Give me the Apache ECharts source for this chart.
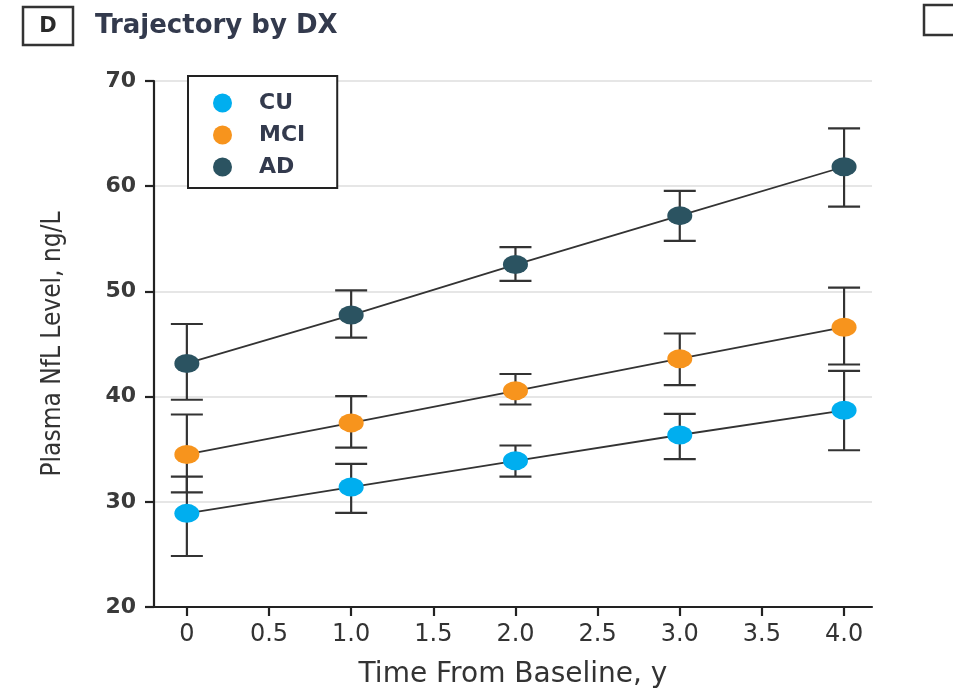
<!DOCTYPE html>
<html>
<head>
<meta charset="utf-8">
<script src="https://cdn.jsdelivr.net/npm/echarts@6/dist/echarts.min.js"></script>
<style>
  html, body { margin: 0; padding: 0; background: #fff; }
  #chart { width: 953px; height: 691px; }
</style>
</head>
<body>
<div id="chart"></div>
<script>
// Years since baseline
const years = [0, 1, 2, 3, 4];
const xTicks = [0, 0.5, 1, 1.5, 2, 2.5, 3, 3.5, 4];

// Plasma NfL (ng/L) estimates with lower / upper confidence bounds
const cuMean = [28.9, 31.4, 33.9, 36.35, 38.7];
const cuLow  = [24.85, 28.95, 32.4, 34.05, 34.9];
const cuHigh = [32.4, 33.6, 35.35, 38.35, 42.45];

const mciMean = [34.5, 37.5, 40.55, 43.6, 46.6];
const mciLow  = [30.9, 35.15, 39.25, 41.1, 43.05];
const mciHigh = [38.3, 40.05, 42.15, 46.0, 50.35];

const adMean = [43.15, 47.75, 52.55, 57.2, 61.85];
const adLow  = [39.7, 45.6, 51.0, 54.8, 58.05];
const adHigh = [46.9, 50.1, 54.2, 59.55, 65.5];

const groups = [
  { name: 'CU',  color: '#00aeef', mean: cuMean,  low: cuLow,  high: cuHigh },
  { name: 'MCI', color: '#f7941d', mean: mciMean, low: mciLow, high: mciHigh },
  { name: 'AD',  color: '#2b5361', mean: adMean,  low: adLow,  high: adHigh }
];

const sans = '"DejaVu Sans", sans-serif';
const condensed = '"DejaVu Sans Condensed", "DejaVu Sans", sans-serif';
const ink = '#333333';
// Stretchable dot (ellipse when width != height)
const dot = 'path://M0,10A10,10,0,1,1,20,10A10,10,0,1,1,0,10Z';

function errorBarSeries(g) {
  return {
    type: 'custom',
    name: g.name + ' CI',
    z: 1,
    silent: true,
    data: years.map((x, i) => [x, g.low[i], g.high[i]]),
    renderItem: function (params, api) {
      const lo = api.coord([api.value(0), api.value(1)]);
      const hi = api.coord([api.value(0), api.value(2)]);
      const half = 16;
      const style = { stroke: ink, lineWidth: 2.2, fill: null };
      return {
        type: 'group',
        children: [
          { type: 'line', shape: { x1: lo[0], y1: lo[1], x2: hi[0], y2: hi[1] }, style: style },
          { type: 'line', shape: { x1: lo[0] - half, y1: lo[1], x2: lo[0] + half, y2: lo[1] }, style: style },
          { type: 'line', shape: { x1: hi[0] - half, y1: hi[1], x2: hi[0] + half, y2: hi[1] }, style: style }
        ]
      };
    }
  };
}

function trendSeries(g) {
  return {
    type: 'line',
    name: g.name,
    z: 3,
    data: years.map((x, i) => [x, g.mean[i]]),
    symbol: dot,
    symbolSize: [25, 19],
    itemStyle: { color: g.color, borderWidth: 0 },
    lineStyle: { color: '#333333', width: 1.8 },
    emphasis: { disabled: true },
    animation: false
  };
}

const chart = echarts.init(document.getElementById('chart'), null, { renderer: 'canvas' });

chart.setOption({
  animation: false,
  backgroundColor: '#ffffff',
  grid: { left: 154, right: 81, top: 81, bottom: 84, containLabel: false, outerBoundsMode: 'none' },
  graphic: [
    { type: 'rect', shape: { x: 23, y: 7, width: 50, height: 38 },
      style: { fill: '#fff', stroke: '#333', lineWidth: 2.5 } },
    { type: 'text', x: 48, y: 27,
      style: { text: 'D', font: 'bold 21px "DejaVu Sans", sans-serif', fill: '#2a2a2a',
               align: 'center', verticalAlign: 'middle' } },
    { type: 'text', x: 95, y: 26,
      style: { text: 'Trajectory by DX', font: 'bold 26px "DejaVu Sans", sans-serif', fill: '#333a4d',
               verticalAlign: 'middle' } },
    { type: 'rect', shape: { x: 924, y: 5, width: 40, height: 30 },
      style: { fill: '#fff', stroke: '#333', lineWidth: 2.5 } }
  ],
  legend: {
    left: 188, top: 76,
    orient: 'vertical',
    padding: [16, 32, 10, 25],
    itemGap: 10,
    itemWidth: 25, itemHeight: 19,
    icon: dot,
    borderColor: '#222', borderWidth: 2,
    backgroundColor: '#fff',
    data: groups.map(g => ({ name: g.name, itemStyle: { color: g.color } })),
    textStyle: { fontFamily: sans, fontWeight: 'bold', fontSize: 22, color: '#333a4d', padding: [0, 0, 0, 19] }
  },
  xAxis: {
    type: 'value',
    min: -0.2, max: 4.17,
    name: 'Time From Baseline, y',
    nameLocation: 'middle',
    nameGap: 54,
    nameTextStyle: { fontFamily: sans, fontSize: 28, color: ink },
    axisLine: { show: true, onZero: false, lineStyle: { color: '#222', width: 2.2 } },
    axisTick: { show: true, customValues: xTicks, length: 9, lineStyle: { color: '#222', width: 2.2 } },
    axisLabel: {
      customValues: xTicks,
      margin: 16,
      fontFamily: sans, fontSize: 24, color: ink,
      formatter: v => (v === 0 ? '0' : v.toFixed(1))
    },
    splitLine: { show: false }
  },
  yAxis: {
    type: 'value',
    min: 20, max: 70, interval: 10,
    name: 'Plasma NfL Level, ng/L',
    nameLocation: 'middle',
    nameGap: 88,
    nameTextStyle: { fontFamily: condensed, fontSize: 26, color: ink },
    axisLine: { show: true, onZero: false, lineStyle: { color: '#222', width: 2.2 } },
    axisTick: { show: true, length: 9, lineStyle: { color: '#222', width: 2.2 } },
    axisLabel: { margin: 18, fontFamily: sans, fontWeight: 'bold', fontSize: 22, color: '#3a3a3a' },
    splitLine: { show: true, lineStyle: { color: '#dedede', width: 1.5 } }
  },
  series: [
    ...groups.map(errorBarSeries),
    ...groups.map(trendSeries)
  ]
});
</script>
</body>
</html>
